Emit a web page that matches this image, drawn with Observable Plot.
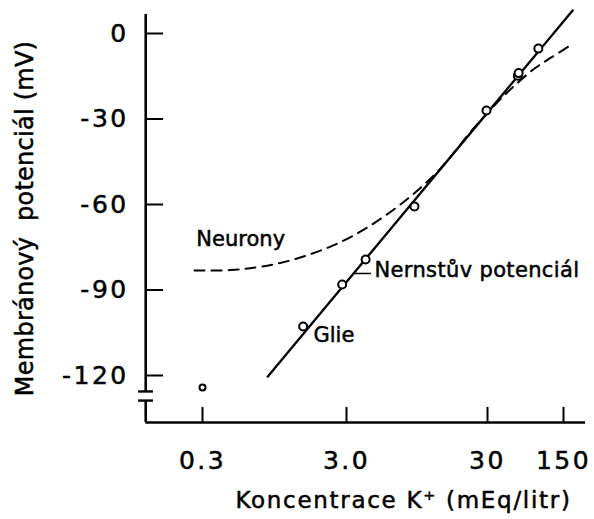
<!DOCTYPE html>
<html><head><meta charset="utf-8">
<script src="https://cdn.jsdelivr.net/npm/d3@7"></script>
<script src="https://cdn.jsdelivr.net/npm/@observablehq/plot@0.6"></script>
<style>body{margin:0;background:#fff} svg{display:block;background:#fff}</style>
</head><body><div id="chart"></div>
<script>
// Glia measurements (K+ concentration in mEq/l, membrane potential in mV)
const gliaK  = [0.3, 1.5, 2.8, 4.1, 9.1, 29.5, 57, 58, 88];
const gliaMV = [-124.2, -102.8, -88.1, -79.3, -60.7, -27.0, -14.8, -13.9, -5.3];
// Nernst potential (straight line on log axis)
const nernstK  = [0.85, 182];
const nernstMV = [-120.4, 8.1];
// Neurons (dashed curve)
const neuronK  = [0.264, 0.47, 0.70, 0.96, 1.33, 1.83, 2.52, 3.47, 4.66, 6.36, 8.53, 10.9, 13.9, 17.8, 22.0, 32.0, 48.8, 81.2, 116, 178];
const neuronMV = [-83.2, -83.0, -82.1, -80.9, -79.1, -76.8, -74.0, -70.5, -66.7, -62.1, -57.2, -52.6, -47.4, -41.1, -35.4, -26.7, -19.6, -12.3, -8.4, -3.9];
// Axis ticks
const xTicks = [0.3, 3, 30, 150];
const xTickLabels = ["0.3", "3.0", "30", "150"];
const yTicks = [0, -30, -60, -90, -120];
const yTickLabels = ["0", "-30", "-60", "-90", "-120"];
// Texts
const xTitle = "Koncentrace K⁺ (mEq/litr)";
const yTitle = "Membránový  potenciál (mV)";
const labelNeurons = "Neurony", labelNernst = "Nernstův potenciál", labelGlia = "Glie";

// axis frame extents (data units)
const axisXLeft = 0.121, axisXRight = 239;
const axisYTop = 6.7, breakUpper = -125.6, breakLower = -128.8, axisYBottom = -136.5;

const glia = gliaK.map((k, i) => ({k, v: gliaMV[i], r: i === 0 ? 3 : 4}));
const nernst = nernstK.map((k, i) => ({k, v: nernstMV[i]}));
const neuron = neuronK.map((k, i) => ({k, v: neuronMV[i]}));

const T = {stroke: "#000", strokeWidth: 0.5, fill: "#000"};

const chart = Plot.plot({
  width: 594, height: 519,
  marginLeft: 145, marginRight: 9, marginTop: 14, marginBottom: 97,
  style: {fontFamily: "DejaVu Sans", color: "#000", background: "#fff"},
  x: {type: "log", domain: [0.3, 3, 30, 150], range: [202, 346, 487, 563], axis: null},
  y: {type: "linear", domain: [-120, 0], range: [375, 33], axis: null},
  r: {type: "identity"},
  marks: [
    // axes
    Plot.ruleX([axisXLeft], {y1: axisYTop, y2: breakUpper, strokeWidth: 2.6}),
    Plot.ruleX([axisXLeft], {y1: breakLower, y2: axisYBottom, strokeWidth: 2.6}),
    Plot.ruleY([breakUpper, breakLower], {x1: 0.108, x2: 0.137, strokeWidth: 2.4}),
    Plot.ruleY([axisYBottom], {x1: axisXLeft, x2: axisXRight, strokeWidth: 2.6}),
    Plot.ruleY(yTicks, {x1: axisXLeft, x2: 0.161, strokeWidth: 2}),
    Plot.ruleX(xTicks, {y1: axisYBottom, y2: -131.2, strokeWidth: 2}),
    Plot.text(yTicks, {...T, x: axisXLeft, y: d => d, text: (d, i) => yTickLabels[i], textAnchor: "end", dx: -17, fontSize: 25, ariaDescription: "ytl"}),
    Plot.text(xTicks, {...T, x: d => d, y: axisYBottom, text: (d, i) => xTickLabels[i], dy: 46, lineAnchor: "bottom", fontSize: 25, ariaDescription: "xtl"}),
    // curves
    Plot.line(neuron, {x: "k", y: "v", strokeWidth: 2, strokeDasharray: "10,7", curve: "catmull-rom"}),
    Plot.line(nernst, {x: "k", y: "v", strokeWidth: 2.3}),
    Plot.ruleY([-84.2], {x1: 3.36, x2: 4.51, strokeWidth: 1.5}),
    Plot.dot(glia, {x: "k", y: "v", r: "r", fill: "#fff", stroke: "#000", strokeWidth: 2}),
    // labels
    Plot.text([labelNeurons], {...T, x: 0.272, y: -74.7, text: d => d, textAnchor: "start", lineAnchor: "bottom", fontSize: 21}),
    Plot.text([labelNernst], {...T, x: 4.74, y: -85.6, text: d => d, textAnchor: "start", lineAnchor: "bottom", fontSize: 21, ariaDescription: "nernst"}),
    Plot.text([labelGlia], {...T, x: 1.77, y: -108.4, text: d => d, textAnchor: "start", lineAnchor: "bottom", fontSize: 21}),
    // titles
    Plot.text([xTitle], {...T, frameAnchor: "bottom", textAnchor: "middle", dx: 38, dy: 85, lineAnchor: "bottom", fontSize: 23, ariaDescription: "xtitle"}),
    Plot.text([yTitle], {...T, frameAnchor: "left", textAnchor: "middle", dx: -120, rotate: -90, fontSize: 24, ariaDescription: "ytitle"})
  ]
});
const ls = {ytl: "2.5px", xtl: "2.5px", nernst: "0.35px", xtitle: "1.7px", ytitle: "0.25px"};
for (const [k, v] of Object.entries(ls)) {
  chart.querySelectorAll(`[aria-description="${k}"]`).forEach(g => {
    g.style.letterSpacing = v;
    g.querySelectorAll("text").forEach(t => t.style.letterSpacing = v);
  });
}
document.getElementById("chart").appendChild(chart);
</script>
</body></html>
